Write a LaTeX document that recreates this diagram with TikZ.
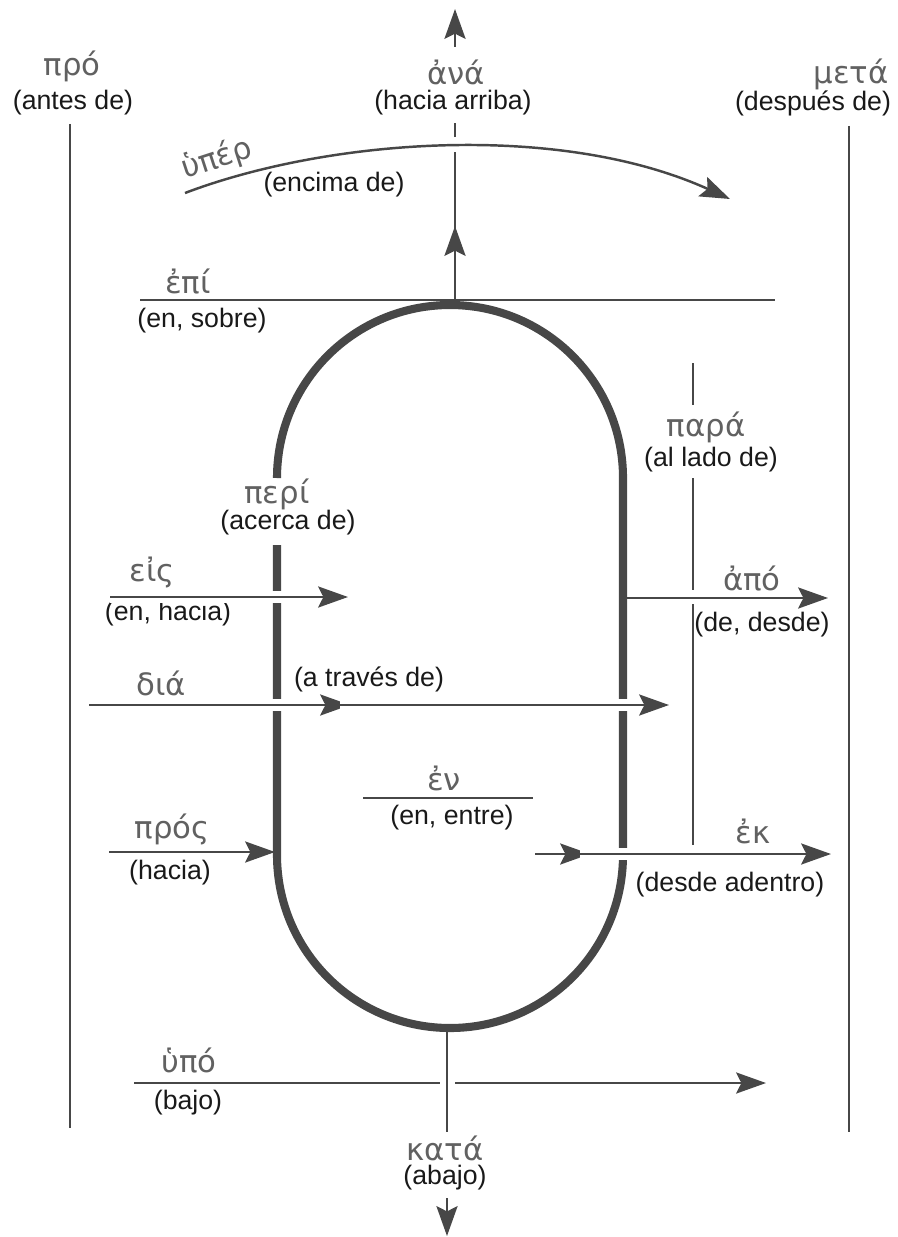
\documentclass[tikz,border=0pt]{standalone}
\usepackage{fontspec}
\setmainfont{Liberation Sans}
\newfontfamily\grkfont{DejaVu Sans}
\usetikzlibrary{arrows.meta}

\tikzset{
  lat/.style={font=\fontsize{15.2}{17}\selectfont, text=black!90, inner sep=1pt},
  grk/.style={font=\grkfont\fontsize{17.5}{19}\selectfont, text=black!62, inner sep=1pt},
  thinline/.style={draw=black!72, line width=1.4pt},
  arr/.style={thinline, -{Stealth[length=17pt, width=12pt, inset=3pt]}},
  halo/.style={preaction={draw=white, line width=6.5pt}},
  wall/.style={draw=black!72, line width=4.6pt}
}

\begin{document}
\begin{tikzpicture}[x=0.02cm, y=-0.02cm]
\useasboundingbox (0,0) rectangle (897,1237);

% Textos
\node[grk] (pro) at (72,66) {πρό};
\node[lat] (prol) at (73,103) {(antes de)};
\node[grk] (meta) at (851,74) {μετά};
\node[lat] (metal) at (813,103) {(después de)};
\node[grk] (ana) at (456,72) {ἀνά};
\node[lat] (anal) at (453,103) {(hacia arriba)};
\node[grk, rotate=18] (hyper) at (217,159) {ὑπέρ};
\node[lat] (hyperl) at (334,185) {(encima de)};
\node[grk] (epi) at (188,281) {ἐπί};
\node[lat] (epil) at (202,321) {(en, sobre)};
\node[grk] (peri) at (277,494) {περί};
\node[lat] (peril) at (288,523) {(acerca de)};
\node[grk] (para) at (706,427) {παρά};
\node[lat] (paral) at (711,460) {(al lado de)};
\node[grk] (eis) at (152,572) {εἰς};
\node[lat] (eisl) at (168,614) {(en, hacia)};
\node[grk] (apo) at (752,578) {ἀπό};
\node[lat] (apol) at (762,625) {(de, desde)};
\node[grk] (dia) at (161,683) {διά};
\node[lat] (dial) at (369,679) {(a través de)};
\node[grk] (en) at (444,778) {ἐν};
\node[lat] (enl) at (452,818) {(en, entre)};
\node[grk] (pros) at (172,829) {πρός};
\node[lat] (prosl) at (170,873) {(hacia)};
\node[grk] (ek) at (753,831) {ἐκ};
\node[lat] (ekl) at (730,885) {(desde adentro)};
\node[grk] (hypo) at (189,1060) {ὑπό};
\node[lat] (hypol) at (188,1103) {(bajo)};
\node[grk] (kata) at (445,1148) {κατά};
\node[lat] (katal) at (445,1178) {(abajo)};

% Lineas exteriores
\draw[thinline] (70,124) -- (70,1128);
\draw[thinline] (849,126) -- (849,1132);

% ἐπί y ἐν
\draw[thinline] (140,300) -- (775,300);
\draw[thinline] (363,798) -- (533,798);

% παρά
\draw[thinline] (693,363) -- (693,405);
\draw[thinline] (693,478) -- (693,590);
\draw[thinline] (693,604) -- (693,845);

% ἀνά
\draw[arr] (455,305) -- (455,226);
\draw[thinline] (455,236) -- (455,152);
\draw[thinline] (455,137) -- (455,123);
\draw[arr] (455,47) -- (455,9);

% ὑπέρ
\draw[arr] (185,193) .. controls (330,138) and (560,122) .. (730,199);

% Recinto
\draw[wall] (277,545) -- (277,855) arc (180:0:173) -- (623,478) arc (0:-180:173);

% Flechas
\draw[arr, halo] (110,597) -- (348,597);
\draw[arr, halo] (89,705) -- (350,705);
\draw[arr, halo] (340,705) -- (669,705);
\draw[arr] (109,852) -- (275,852);
\draw[arr] (625,598) -- (828,598);
\draw[arr, halo] (535,854) -- (590,854);
\draw[arr, halo] (580,854) -- (831,854);

% ὑπό y κατά
\draw[thinline] (134,1083) -- (440,1083);
\draw[arr] (455,1083) -- (766,1083);
\draw[thinline] (447,1028) -- (447,1132);
\draw[arr] (447,1198) -- (447,1236);

\end{tikzpicture}
\end{document}
